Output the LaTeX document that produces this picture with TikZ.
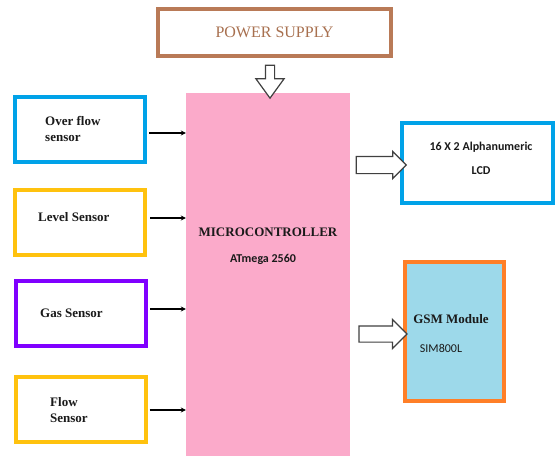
\documentclass[tikz,border=0pt]{standalone}
\usepackage{fontspec}
\setmainfont{Liberation Serif}
\newfontfamily\calfont{Carlito}
\usepackage{xcolor}
\usepackage{tikz}
\usetikzlibrary{shapes.arrows,arrows.meta,positioning,calc}
\definecolor{psbrown}{HTML}{B97A57}
\definecolor{psbrowntxt}{HTML}{A8704F}
\definecolor{mcpink}{HTML}{FBAACA}
\definecolor{snblue}{HTML}{00A2E8}
\definecolor{snyellow}{HTML}{FFC20E}
\definecolor{snpurple}{HTML}{8000FF}
\definecolor{gsmorange}{HTML}{FF7F27}
\definecolor{gsmfill}{HTML}{9DD9EA}
\definecolor{arrgray}{HTML}{404040}
\definecolor{txtink}{HTML}{1A1A1A}
\tikzset{
  sensor/.style={rectangle,draw=#1,line width=4pt,fill=white,
                 minimum width=130pt,minimum height=65pt,inner sep=0pt},
  lbl/.style={font=\fontsize{13}{16}\selectfont\bfseries,text=txtink,
              align=left,inner sep=0pt},
  sanslbl/.style={font=\calfont\fontsize{12}{24}\selectfont\bfseries,text=txtink,
                  align=center,inner sep=0pt},
  hollow/.style={single arrow,draw=arrgray,line width=1.2pt,fill=white,
                 inner xsep=0pt,single arrow head extend=#1},
  flow/.style={-{Stealth[length=5pt,width=5pt]},line width=1.6pt,draw=black},
}
\begin{document}
\begin{tikzpicture}[x=1pt,y=-1pt]
\useasboundingbox (0,0) rectangle (556,456);
% central block
\node[rectangle,fill=mcpink,minimum width=164pt,minimum height=363pt,inner sep=0pt]
  (micro) at (268,274.5) {};
\node[lbl,font=\fontsize{13}{16}\selectfont\bfseries] (microtxt) at (268,232) {MICROCONTROLLER};
\node[sanslbl,font=\calfont\fontsize{12}{14}\selectfont\bfseries] (atmega) at (263,259) {ATmega 2560};
% power supply
\node[rectangle,draw=psbrown,line width=4pt,fill=white,minimum width=233pt,
      minimum height=47pt,inner sep=0pt,font=\fontsize{16}{18}\selectfont,text=psbrowntxt]
  (power) at (274.5,32.5) {POWER SUPPLY};
\node[hollow=9.5pt,rotate=-90,inner ysep=4pt,minimum height=33pt,
      single arrow tip angle=72] (pwarr) at (270,78.5) {};
% sensors
\node[sensor=snblue] (ovf) at (80,129.5) {};
\node[lbl,anchor=west] (ovftxt) at (45,128.5) {Over flow\\sensor};
\node[sensor=snyellow] (lvl) at (80,222) {};
\node[lbl,anchor=west] (lvltxt) at (38,217) {Level Sensor};
\node[sensor=snpurple] (gas) at (81,313.5) {};
\node[lbl,anchor=west] (gastxt) at (40,313) {Gas Sensor};
\node[sensor=snyellow] (flw) at (80.5,409.5) {};
\node[lbl,anchor=west] (flwtxt) at (50,410) {Flow\\Sensor};
\draw[flow] (ovf.east) ++(2,3.5) coordinate (ovfa) -- (ovfa -| micro.west);
\draw[flow] (lvl.east) ++(3,-4) coordinate (lvla) -- (lvla -| micro.west);
\draw[flow] (gas.east) ++(2,-4.5) coordinate (gasa) -- (gasa -| micro.west);
\draw[flow] (flw.east) ++(2,0.5) coordinate (flwa) -- (flwa -| micro.west);
% outputs
\node[rectangle,draw=snblue,line width=4pt,fill=white,minimum width=151pt,
      minimum height=80pt,inner sep=0pt] (lcd) at (477.5,163) {};
\node[sanslbl] (lcdtxt) at (481,158) {16 X 2 Alphanumeric\\LCD};
\node[hollow=5pt,inner ysep=8pt,minimum height=50pt] (lcdarr) at (377,165) {};
\node[rectangle,draw=gsmorange,line width=4pt,fill=gsmfill,minimum width=99pt,
      minimum height=139pt,inner sep=0pt] (gsm) at (454.5,331.5) {};
\node[lbl,font=\fontsize{13}{16}\selectfont\bfseries] (gsmtxt) at (451,319) {GSM Module};
\node[sanslbl,font=\calfont\fontsize{12}{14}\selectfont] (simtxt) at (441,348) {SIM800L};
\node[hollow=6.5pt,inner ysep=7.5pt,minimum height=48pt] (gsmarr) at (379,334) {};
\end{tikzpicture}
\end{document}
